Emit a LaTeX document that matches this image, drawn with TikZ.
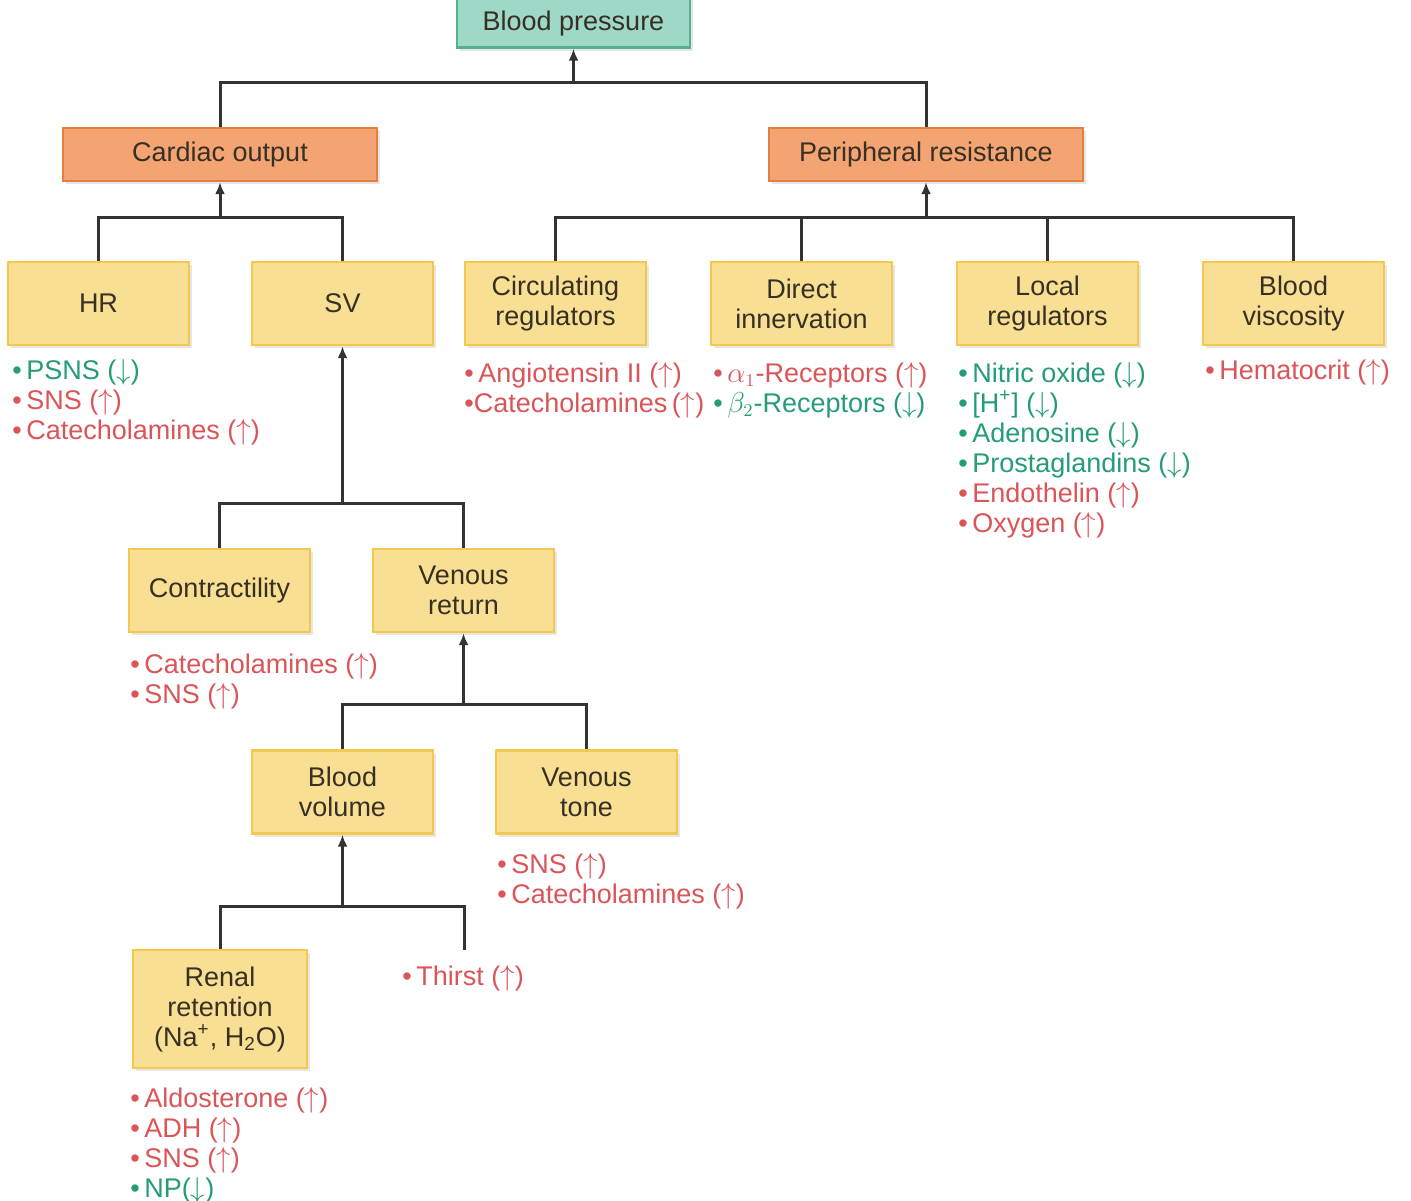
\documentclass[tikz,border=0pt]{standalone}
\usepackage{fontspec}
\setmainfont{Liberation Sans}
\usepackage{tikz}
\usetikzlibrary{positioning,shadows,arrows.meta}

\definecolor{bpFill}{RGB}{158,216,198}
\definecolor{bpEdge}{RGB}{85,176,143}
\definecolor{mainFill}{RGB}{244,163,115}
\definecolor{mainEdge}{RGB}{229,127,61}
\definecolor{factorFill}{RGB}{249,223,147}
\definecolor{factorEdge}{RGB}{242,201,76}
\definecolor{boxText}{RGB}{55,48,36}
\definecolor{linkGray}{RGB}{51,51,51}
\definecolor{riseRed}{RGB}{218,84,88}
\definecolor{fallGreen}{RGB}{36,156,120}

\newcommand{\diagfont}{\fontsize{13.5}{15}\selectfont}
\newcommand{\incArr}{(\ensuremath{\uparrow})}
\newcommand{\decArr}{(\ensuremath{\downarrow})}
\newcommand{\redItem}[1]{\textcolor{riseRed}{\textbullet\,#1}}
\newcommand{\greenItem}[1]{\textcolor{fallGreen}{\textbullet\,#1}}

\tikzset{
	basebox/.style={line width=1.2pt, align=center, text=boxText, font=\diagfont,
		drop shadow={opacity=0.2, shadow xshift=1.5pt, shadow yshift=-1.5pt}},
	topbox/.style={basebox, draw=bpEdge, fill=bpFill, minimum width=116.5pt, minimum height=27pt, text depth=0pt},
	mainbox/.style={basebox, draw=mainEdge, fill=mainFill, minimum width=157pt, minimum height=26.5pt},
	factor/.style={basebox, draw=factorEdge, fill=factorFill, minimum width=90.5pt, minimum height=41.5pt},
	effects/.style={anchor=north west, inner sep=0pt, align=left, font=\diagfont},
	link/.style={draw=linkGray, line width=1.5pt},
	feed/.style={link, -{Latex[length=6pt,width=5pt]}}
}

\begin{document}
\begin{tikzpicture}[x=0.5pt,y=-0.5pt,node distance=123pt,on grid]
		\useasboundingbox (0,0) rectangle (1411,1200);

		% boxes
		\node[topbox] (BloodPressure) at (573.5,20.5) {Blood pressure};
		\node[mainbox] (CardiacOutput) at (220,154.5) {Cardiac output};
		\node[mainbox] (PeriphRes) at (926,154.5) {Peripheral resistance};

		\node[factor] (HR) at (98.5,303.5) {HR};
		\node[factor] (SV) [right=of HR, xshift=-1pt] {SV};
		\node[factor] (Circulating) at (555.5,303.5) {Circulating\\regulators};
		\node[factor] (Direct) [right=of Circulating] {Direct\\innervation};
		\node[factor] (Local) [right=of Direct] {Local\\regulators};
		\node[factor] (Viscosity) [right=of Local] {Blood\\viscosity};

		\node[factor] (Contractility) at (219.5,590.5) {Contractility};
		\node[factor] (VenousReturn) [right=of Contractility, xshift=-1pt] {Venous\\return};
		\node[factor] (BloodVolume) at (342.5,792) {Blood\\volume};
		\node[factor] (VenousTone) [right=of BloodVolume, xshift=-1pt] {Venous\\tone};
		\node[factor, minimum width=87pt, minimum height=59pt] (Renal) at (220,1009)
			{Renal\\retention\\(Na\textsuperscript{+}, H\textsubscript{2}O)};

		% branch points
		\coordinate (TopHub) at (573.5,82);
		\coordinate (CoHub) at (220,217);
		\coordinate (PrHub) at (926,217);
		\coordinate (SvHub) at (342.5,503);
		\coordinate (VrHub) at (VenousReturn.south |- 0,704);
		\coordinate (BvHub) at (342.5,906);
		\coordinate (ThirstEnd) at (464,950);

		\draw[link] (CardiacOutput.north) |- (TopHub) -| (PeriphRes.north);
		\draw[feed] (TopHub) -- (BloodPressure.south);
		\draw[link] (HR.north) |- (CoHub) -| (SV.north);
		\draw[feed] (CoHub) -- (CardiacOutput.south);
		\draw[link] (Circulating.north) |- (PrHub) -| (Viscosity.north);
		\draw[link] (Direct.north) -- (Direct.north |- PrHub);
		\draw[link] (Local.north) -- (Local.north |- PrHub);
		\draw[feed] (PrHub) -- (PeriphRes.south);
		\draw[link] (Contractility.north) |- (SvHub) -| (VenousReturn.north);
		\draw[feed] (SvHub) -- (SV.south);
		\draw[link] (BloodVolume.north) |- (VrHub) -| (VenousTone.north);
		\draw[feed] (VrHub) -- (VenousReturn.south);
		\draw[link] (Renal.north) |- (BvHub) -| (ThirstEnd);
		\draw[feed] (BvHub) -- (BloodVolume.south);

		% influences
		\node[effects] (HRList) at (12,359)
			{\greenItem{PSNS \decArr}\\\redItem{SNS \incArr}\\\redItem{Catecholamines \incArr}};
		\node[effects] (CircList) at (464,362)
			{\redItem{Angiotensin II \incArr}\\\textcolor{riseRed}{\textbullet Catecholamines\,\incArr}};
		\node[effects] (DirectList) at (713,362)
			{\redItem{$\alpha_1$-Receptors \incArr}\\\greenItem{$\beta_2$-Receptors \decArr}};
		\node[effects] (LocalList) at (958,362)
			{\greenItem{Nitric oxide \decArr}\\\greenItem{[H\textsuperscript{+}] \decArr}\\
			 \greenItem{Adenosine \decArr}\\\greenItem{Prostaglandins \decArr}\\
			 \redItem{Endothelin \incArr}\\\redItem{Oxygen \incArr}};
		\node[effects] (ViscList) at (1205,359) {\redItem{Hematocrit \incArr}};
		\node[effects] (ContrList) at (130,653)
			{\redItem{Catecholamines \incArr}\\\redItem{SNS \incArr}};
		\node[effects] (ToneList) at (497,853)
			{\redItem{SNS \incArr}\\\redItem{Catecholamines \incArr}};
		\node[effects] (Thirst) at (402,965) {\redItem{Thirst \incArr}};
		\node[effects] (RenalList) at (130,1087)
			{\redItem{Aldosterone \incArr}\\\redItem{ADH \incArr}\\\redItem{SNS \incArr}\\
			 \greenItem{NP\decArr}};
\end{tikzpicture}
\end{document}
